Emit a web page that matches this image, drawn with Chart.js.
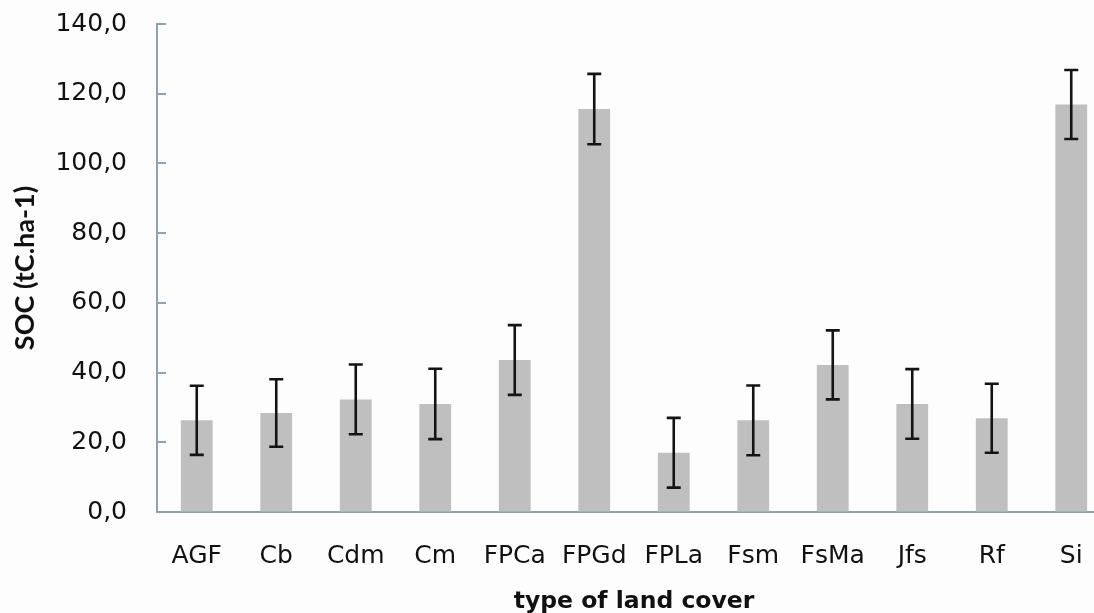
<!DOCTYPE html>
<html>
<head>
<meta charset="utf-8">
<script src="https://cdn.jsdelivr.net/npm/chart.js@4.4.1/dist/chart.umd.min.js"></script>
<style>
  html, body { margin: 0; padding: 0; overflow: hidden; background: #fdfdfd; }
  #wrap { position: relative; width: 1125px; height: 620px; }
</style>
</head>
<body>
<div id="wrap"><canvas id="c"></canvas></div>
<script>
// ---- data ----
const categories = ['AGF', 'Cb', 'Cdm', 'Cm', 'FPCa', 'FPGd', 'FPLa', 'Fsm', 'FsMa', 'Jfs', 'Rf', 'Si'];
const socMeans   = [26.3, 28.4, 32.3, 31.0, 43.6, 115.6, 17.0, 26.3, 42.2, 31.0, 26.9, 116.9];
const socErrors  = [9.9, 9.7, 10.0, 10.1, 10.0, 10.1, 10.0, 10.0, 9.9, 10.0, 9.9, 9.9];
const yTickValues = [0, 20, 40, 60, 80, 100, 120, 140];
const yTickLabels = ['0,0', '20,0', '40,0', '60,0', '80,0', '100,0', '120,0', '140,0'];
const yTitle = 'SOC (tC.ha-1)';
const xTitle = 'type of land cover';

const AXIS_COLOR = '#8ea3ae';
const TEXT_COLOR = '#111111';

const errorBarPlugin = {
  id: 'errorBars',
  afterDatasetsDraw(chart) {
    const ctx = chart.ctx;
    const meta = chart.getDatasetMeta(0);
    const y = chart.scales.y;
    ctx.save();
    ctx.strokeStyle = '#141414';
    ctx.lineWidth = 2.6;
    ctx.lineCap = 'butt';
    meta.data.forEach((bar, i) => {
      const x = bar.x;
      const top = y.getPixelForValue(socMeans[i] + socErrors[i]);
      const bot = y.getPixelForValue(socMeans[i] - socErrors[i]);
      const half = 7;
      ctx.beginPath();
      ctx.moveTo(x, top); ctx.lineTo(x, bot);
      ctx.moveTo(x - half, top); ctx.lineTo(x + half, top);
      ctx.moveTo(x - half, bot); ctx.lineTo(x + half, bot);
      ctx.stroke();
    });
    ctx.restore();
  }
};

const innerTicksPlugin = {
  id: 'innerTicks',
  afterDraw(chart) {
    const ctx = chart.ctx;
    const y = chart.scales.y;
    const left = chart.chartArea.left;
    ctx.save();
    ctx.strokeStyle = AXIS_COLOR;
    ctx.lineWidth = 2;
    y.ticks.forEach(t => {
      const py = Math.round(y.getPixelForValue(t.value));
      ctx.beginPath();
      ctx.moveTo(left, py);
      ctx.lineTo(left + 9, py);
      ctx.stroke();
    });
    ctx.restore();
  }
};

new Chart(document.getElementById('c'), {
  type: 'bar',
  data: {
    labels: categories,
    datasets: [{
      data: socMeans,
      backgroundColor: '#bfbfbf',
      borderWidth: 0,
      barPercentage: 0.4,
      categoryPercentage: 1.0
    }]
  },
  options: {
    responsive: true,
    maintainAspectRatio: false,
    animation: false,
    layout: { padding: { top: 24, right: 14, bottom: 0, left: 0 } },
    plugins: { legend: { display: false }, tooltip: { enabled: false } },
    scales: {
      x: {
        grid: { display: true, drawOnChartArea: false, drawTicks: true, tickLength: 29, color: 'rgba(0,0,0,0)' },
        border: { display: true, color: AXIS_COLOR, width: 2 },
        ticks: {
          padding: 0,
          color: TEXT_COLOR,
          font: { family: 'DejaVu Sans', size: 25, lineHeight: 1.2 },
          maxRotation: 0,
          autoSkip: false
        },
        title: {
          display: true,
          text: xTitle,
          color: TEXT_COLOR,
          font: { family: 'DejaVu Sans', size: 23.5, weight: 'bold', lineHeight: 1.0 },
          padding: { top: 0, bottom: 6 }
        },
        afterFit(s) { s.height = 108; }
      },
      y: {
        min: 0,
        max: 140,
        afterBuildTicks(s) { s.ticks = yTickValues.map(v => ({ value: v })); },
        grid: { display: true, drawOnChartArea: false, drawTicks: true, tickLength: 30, color: 'rgba(0,0,0,0)' },
        border: { display: true, color: AXIS_COLOR, width: 2 },
        ticks: {
          padding: 0,
          color: TEXT_COLOR,
          font: { family: 'DejaVu Sans', size: 25 },
          callback: (v) => yTickLabels[yTickValues.indexOf(v)]
        },
        title: {
          display: true,
          text: yTitle,
          color: TEXT_COLOR,
          font: { family: 'Lato', size: 27, weight: 'bold', lineHeight: 1.2 },
          padding: { top: 9, bottom: 0 }
        },
        afterFit(s) { s.width = 157; }
      }
    }
  },
  plugins: [errorBarPlugin, innerTicksPlugin]
});
</script>
</body>
</html>
